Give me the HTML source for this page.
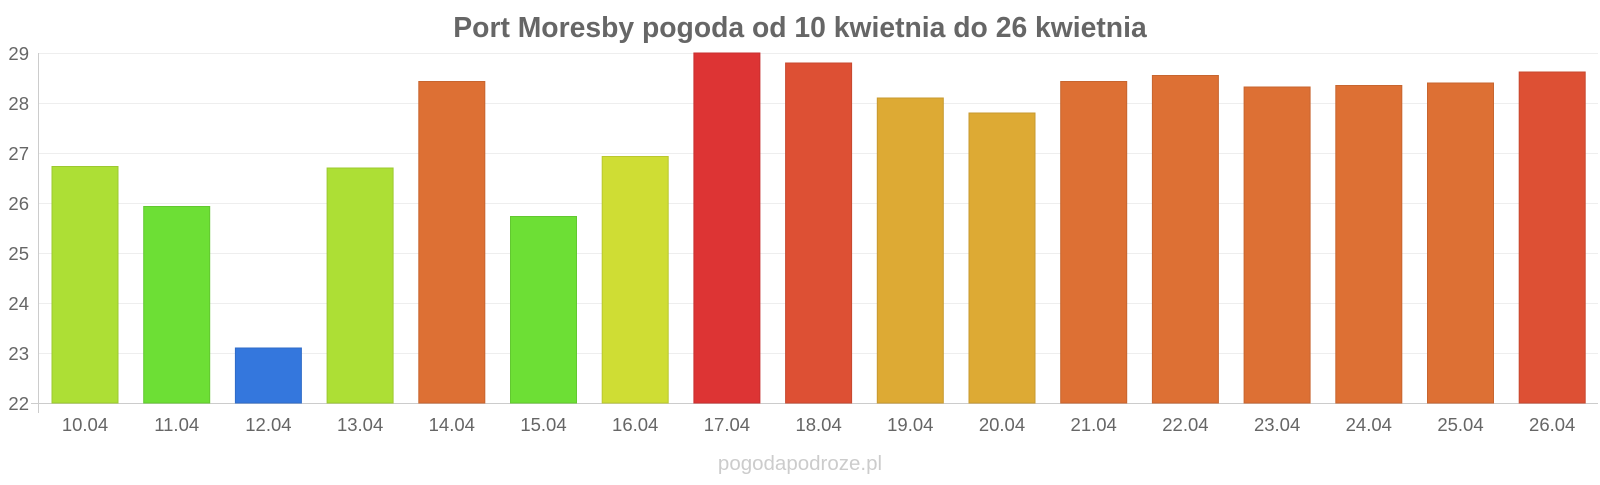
<!DOCTYPE html>
<html><head><meta charset="utf-8"><style>
body{margin:0;background:#fff;}
svg text{font-family:"Liberation Sans",sans-serif;}
</style></head><body>
<svg width="1600" height="480" xmlns="http://www.w3.org/2000/svg">
<text x="800" y="37" text-anchor="middle" font-size="28.3" font-weight="bold" fill="#666">Port Moresby pogoda od 10 kwietnia do 26 kwietnia</text>
<g stroke="#eee" stroke-width="1">
<line x1="39" x2="1598" y1="53.5" y2="53.5"/><line x1="39" x2="1598" y1="103.5" y2="103.5"/><line x1="39" x2="1598" y1="153.5" y2="153.5"/><line x1="39" x2="1598" y1="203.5" y2="203.5"/><line x1="39" x2="1598" y1="253.5" y2="253.5"/><line x1="39" x2="1598" y1="303.5" y2="303.5"/><line x1="39" x2="1598" y1="353.5" y2="353.5"/>
</g>
<line x1="38.5" x2="38.5" y1="53" y2="413" stroke="#ccc"/>
<line x1="31" x2="1598" y1="403.5" y2="403.5" stroke="#ccc"/>
<g font-size="18.5" fill="#666" text-anchor="end">
<text x="29" y="60">29</text><text x="29" y="110">28</text><text x="29" y="160">27</text><text x="29" y="210">26</text><text x="29" y="260">25</text><text x="29" y="310">24</text><text x="29" y="360">23</text><text x="29" y="410">22</text>
</g>
<g stroke-width="1">
<rect x="52" y="166.5" width="66" height="236.5" fill="#addf35" stroke="#9cc830"/>
<rect x="143.7" y="206.5" width="66" height="196.5" fill="#6ddf35" stroke="#62c830"/>
<rect x="235.4" y="348" width="66" height="55" fill="#3477dd" stroke="#2f6bc7"/>
<rect x="327.1" y="168" width="66" height="235" fill="#addf35" stroke="#9cc830"/>
<rect x="418.8" y="81.5" width="66" height="321.5" fill="#dd7034" stroke="#c7652f"/>
<rect x="510.5" y="216.5" width="66" height="186.5" fill="#6ddf35" stroke="#62c830"/>
<rect x="602.2" y="156.5" width="66" height="246.5" fill="#cfdd34" stroke="#bac72f"/>
<rect x="693.9" y="53" width="66" height="350" fill="#dd3434" stroke="#c72f2f"/>
<rect x="785.6" y="63" width="66" height="340" fill="#dd5034" stroke="#c7482f"/>
<rect x="877.3" y="98" width="66" height="305" fill="#ddaa34" stroke="#c7992f"/>
<rect x="969" y="113" width="66" height="290" fill="#ddaa34" stroke="#c7992f"/>
<rect x="1060.7" y="81.5" width="66" height="321.5" fill="#dd7034" stroke="#c7652f"/>
<rect x="1152.4" y="75.5" width="66" height="327.5" fill="#dd7034" stroke="#c7652f"/>
<rect x="1244.1" y="87" width="66" height="316" fill="#dd7034" stroke="#c7652f"/>
<rect x="1335.8" y="85.5" width="66" height="317.5" fill="#dd7034" stroke="#c7652f"/>
<rect x="1427.5" y="83" width="66" height="320" fill="#dd7034" stroke="#c7652f"/>
<rect x="1519.2" y="72" width="66" height="331" fill="#dd5034" stroke="#c7482f"/>
</g>
<g font-size="18.5" fill="#666" text-anchor="middle">
<text x="85" y="431">10.04</text><text x="176.7" y="431">11.04</text><text x="268.4" y="431">12.04</text><text x="360.1" y="431">13.04</text><text x="451.8" y="431">14.04</text><text x="543.5" y="431">15.04</text><text x="635.2" y="431">16.04</text><text x="726.9" y="431">17.04</text><text x="818.6" y="431">18.04</text><text x="910.3" y="431">19.04</text><text x="1002" y="431">20.04</text><text x="1093.7" y="431">21.04</text><text x="1185.4" y="431">22.04</text><text x="1277.1" y="431">23.04</text><text x="1368.8" y="431">24.04</text><text x="1460.5" y="431">25.04</text><text x="1552.2" y="431">26.04</text>
</g>
<text x="800" y="470" text-anchor="middle" font-size="20.5" fill="#ccc">pogodapodroze.pl</text>
</svg>
</body></html>
